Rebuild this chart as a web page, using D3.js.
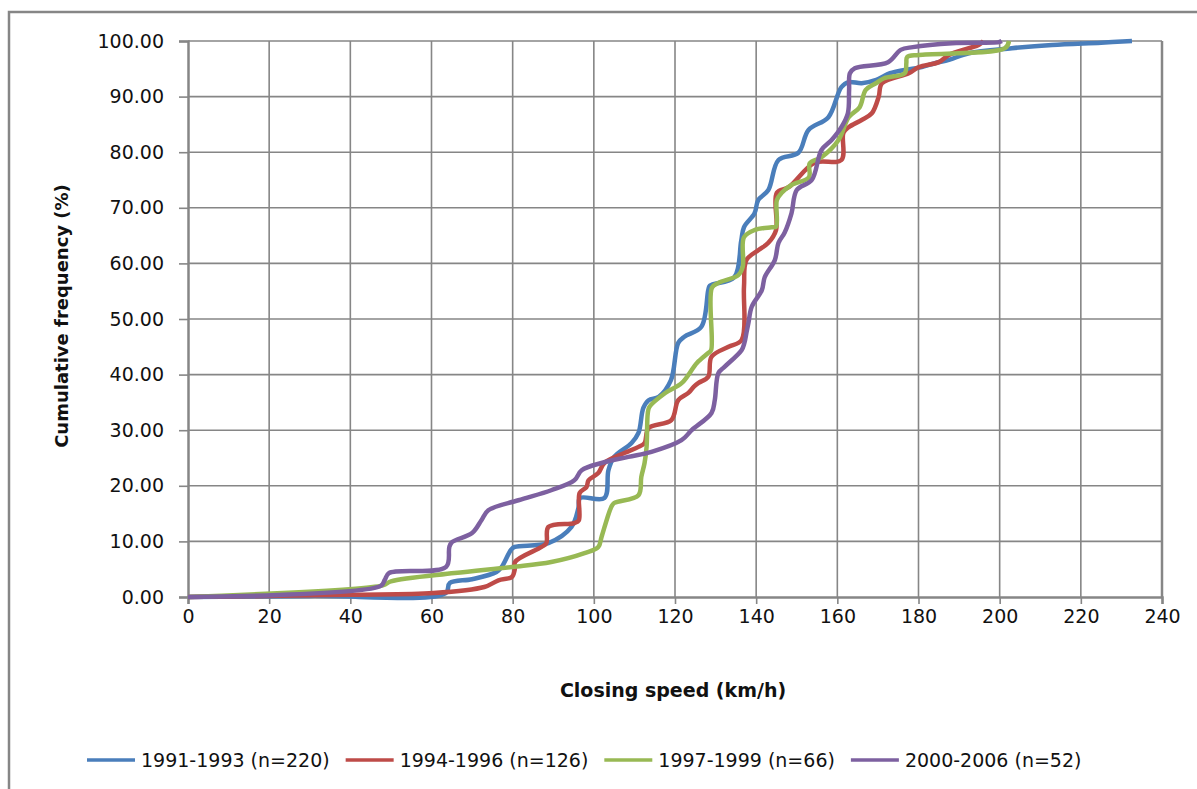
<!DOCTYPE html>
<html>
<head>
<meta charset="utf-8">
<script src="https://cdn.jsdelivr.net/npm/d3@7"></script>
<style>
  body { margin: 0; background: #fff; }
  svg { display: block; font-family: "DejaVu Sans", sans-serif; }
</style>
</head>
<body>
<svg id="chart" width="1197" height="789"></svg>
<script>
// series names and colours (legend order)
var seriesNames = ["1991-1993 (n=220)", "1994-1996 (n=126)", "1997-1999 (n=66)", "2000-2006 (n=52)"];
var seriesColors = ["#4A7EBB", "#BE4B48", "#98B954", "#7D60A0"];

var xTicks = [0, 20, 40, 60, 80, 100, 120, 140, 160, 180, 200, 220, 240];
var yTicks = [0, 10, 20, 30, 40, 50, 60, 70, 80, 90, 100];

// [closing speed km/h, cumulative frequency %]
var s1991 = [[0,0],[30,0.2],[63.5,0.7],[64.5,2.5],[70,3.2],[76,4.5],[77.3,5.4],[79.6,8.5],[80.5,9],[88.8,9.7],
  [94.5,12.6],[96.2,16],[96.6,17.8],[102.6,17.8],[103.6,22.8],[105,25.2],[109.3,27.7],[111,29.5],[112.2,34],
  [113.5,35.4],[116,36],[119,39],[120.8,45.7],[122.3,46.8],[126.5,48.6],[128.2,55.2],[128.6,56],[134.6,57.5],
  [136.3,64],[137,66.5],[139.6,69],[140.5,71.4],[143,73.2],[145.5,78.6],[150.4,79.9],[152.9,84],[157.8,86.3],
  [161,91.7],[162.8,92.6],[166,92.4],[169.6,93],[173,94.2],[176.6,94.8],[180.8,95.3],[184,96],[187.5,96.6],
  [192.4,97.8],[203,98.7],[212.9,99.3],[225,99.7],[232.6,100]];
var s1994 = [[0,0],[40,0.4],[60.5,0.7],[73,1.8],[76.5,3],[79.8,3.6],[80.5,4.9],[80.6,6.3],[87.1,9],[88.3,9.7],
  [88.8,12.6],[95.2,13.3],[96.3,13.8],[96.5,18.7],[98.2,19.8],[98.7,21],[101.1,22.3],[102.6,24.1],[107.5,25.9],
  [111,27],[112.5,27.7],[113.5,30.4],[119.1,31.8],[120.8,35.4],[123.3,36.7],[124.6,37.8],[125.8,38.5],
  [128.2,39.6],[129,43.2],[133.2,45],[136.4,46.2],[137,55.8],[137.6,60.6],[140.6,62.4],[143,63.7],[144.9,66],
  [145.1,72.7],[148,73.7],[154.4,78.1],[161,78.6],[161.5,83.5],[162.8,84.5],[166,85.8],[168.5,87],[170.2,90],
  [171,92.4],[177.6,94.2],[180.1,95.3],[185,96.2],[187.5,97.5],[192.4,98.7],[194.9,99.3],[196,100]];
var s1997 = [[0,0],[48,2.1],[50,2.8],[65.7,4.3],[79.8,5.4],[89.5,6.3],[97.7,7.9],[101.1,9],[101.9,10.8],
  [104.3,16.2],[105,16.9],[111,18.3],[111.7,21.6],[112.5,24.1],[113,27],[113.3,33.1],[113.7,34.2],[117.6,36.7],
  [121.7,38.5],[125.4,42.1],[128.2,43.9],[128.9,44.4],[129.1,55.6],[130.7,56.5],[135.6,57.9],[136.7,59.4],
  [137,64.7],[139.6,66],[143.8,66.5],[144.9,66.6],[145.1,71.4],[146.3,72.7],[148.7,74.1],[153,75.5],[153.2,78],
  [156.1,79.1],[160.3,82.2],[162.8,86.3],[165.5,88.1],[167,91.2],[169.5,92.4],[171.5,93.3],[176.6,94.2],
  [177,96],[177.2,97.1],[180.1,97.5],[201.3,98.7],[202.3,100]];
var s2000 = [[0,0],[47.5,2],[48.5,3.1],[49.5,4.3],[63.6,5.4],[64.4,9],[65.1,9.9],[70,11.5],[72.3,13.8],[74,15.6],
  [81.4,17.4],[89.5,19.2],[95.2,21],[97,22.8],[101.9,24.1],[108.5,25.2],[114.2,26.1],[121.6,28.2],[124.1,30],
  [129,33.1],[129.8,35.4],[130.7,40.3],[132.2,41.4],[136.4,44.4],[137.1,45.7],[137.6,47.5],[138.1,49.3],
  [138.9,52.2],[141.4,55.2],[142.1,57.5],[144.6,60.6],[145.5,63.7],[147,65.5],[148.7,69],[150,73.2],[153.7,75],
  [156.1,80.4],[158.6,82.2],[161,84.5],[162.6,87],[162.9,91.2],[163.1,94.2],[164.3,95.1],[172.5,96.2],
  [175.6,98.4],[178.6,98.9],[188.3,99.6],[199.8,99.8],[200.5,100]];

var allSeries = [s1991, s1994, s1997, s2000];

var svg = d3.select("#chart");
var plotLeft = 188, plotRight = 1162, plotTop = 41, plotBottom = 597;
var gridColor = "#868686";

// outer frame (only top and left show in the picture)
svg.append("path")
  .attr("d", "M9,789 L9,12 L1197,12")
  .attr("fill", "none")
  .attr("stroke", gridColor)
  .attr("stroke-width", 2.5);

var x = d3.scaleLinear().domain([0, 240]).range([plotLeft, plotRight]);
var y = d3.scaleLinear().domain([0, 100]).range([plotBottom, plotTop]);

// gridlines
svg.append("g").selectAll("line")
  .data(yTicks.slice(1))
  .enter().append("line")
  .attr("x1", plotLeft).attr("x2", plotRight)
  .attr("y1", function(d) { return y(d); })
  .attr("y2", function(d) { return y(d); })
  .attr("stroke", gridColor).attr("stroke-width", 1.6);

svg.append("g").selectAll("line")
  .data(xTicks.slice(1))
  .enter().append("line")
  .attr("x1", function(d) { return x(d); })
  .attr("x2", function(d) { return x(d); })
  .attr("y1", plotTop).attr("y2", plotBottom)
  .attr("stroke", gridColor)
  .attr("stroke-width", function(d) { return d == 240 ? 2.5 : 1.6; });

// axes
var xAxis = svg.append("g")
  .attr("transform", "translate(0," + plotBottom + ")")
  .call(d3.axisBottom(x).tickValues(xTicks).tickSize(7).tickPadding(6).tickFormat(d3.format("d")));
var yAxis = svg.append("g")
  .attr("transform", "translate(" + plotLeft + ",0)")
  .call(d3.axisLeft(y).tickValues(yTicks).tickSize(9).tickPadding(15).tickFormat(d3.format(".2f")));

[xAxis, yAxis].forEach(function(ax) {
  ax.select(".domain").attr("stroke", gridColor).attr("stroke-width", 2.5);
  ax.selectAll(".tick line").attr("stroke", gridColor).attr("stroke-width", 1.6);
  ax.selectAll(".tick text")
    .attr("fill", "#111")
    .style("font-family", "DejaVu Sans, sans-serif")
    .style("font-size", "19px");
});

// series lines
var line = d3.line()
  .x(function(d) { return x(d[0]); })
  .y(function(d) { return y(d[1]); })
  .curve(d3.curveCatmullRom.alpha(0.5));

svg.append("g").selectAll("path")
  .data(allSeries)
  .enter().append("path")
  .attr("d", line)
  .attr("fill", "none")
  .attr("stroke", function(d, i) { return seriesColors[i]; })
  .attr("stroke-width", 4.5)
  .attr("stroke-linejoin", "round");

// axis titles
svg.append("text")
  .attr("x", (plotLeft + plotRight) / 2 - 2)
  .attr("y", 697)
  .attr("text-anchor", "middle")
  .style("font-size", "19px")
  .style("font-weight", "bold")
  .attr("fill", "#111")
  .text("Closing speed (km/h)");

svg.append("text")
  .attr("transform", "translate(68," + ((plotTop + plotBottom) / 2 - 3) + ") rotate(-90)")
  .attr("text-anchor", "middle")
  .style("font-size", "18px")
  .style("font-weight", "bold")
  .attr("fill", "#111")
  .text("Cumulative frequency (%)");

// legend
var legend = svg.append("g");
var lx = 87;
seriesNames.forEach(function(name, i) {
  legend.append("line")
    .attr("x1", lx).attr("x2", lx + 48)
    .attr("y1", 760).attr("y2", 760)
    .attr("stroke", seriesColors[i])
    .attr("stroke-width", 3.5);
  var t = legend.append("text")
    .attr("x", lx + 54)
    .attr("y", 767)
    .style("font-size", "19px")
    .attr("fill", "#111")
    .text(name);
  lx += 54 + t.node().getComputedTextLength() + 16;
});
</script>
</body>
</html>
